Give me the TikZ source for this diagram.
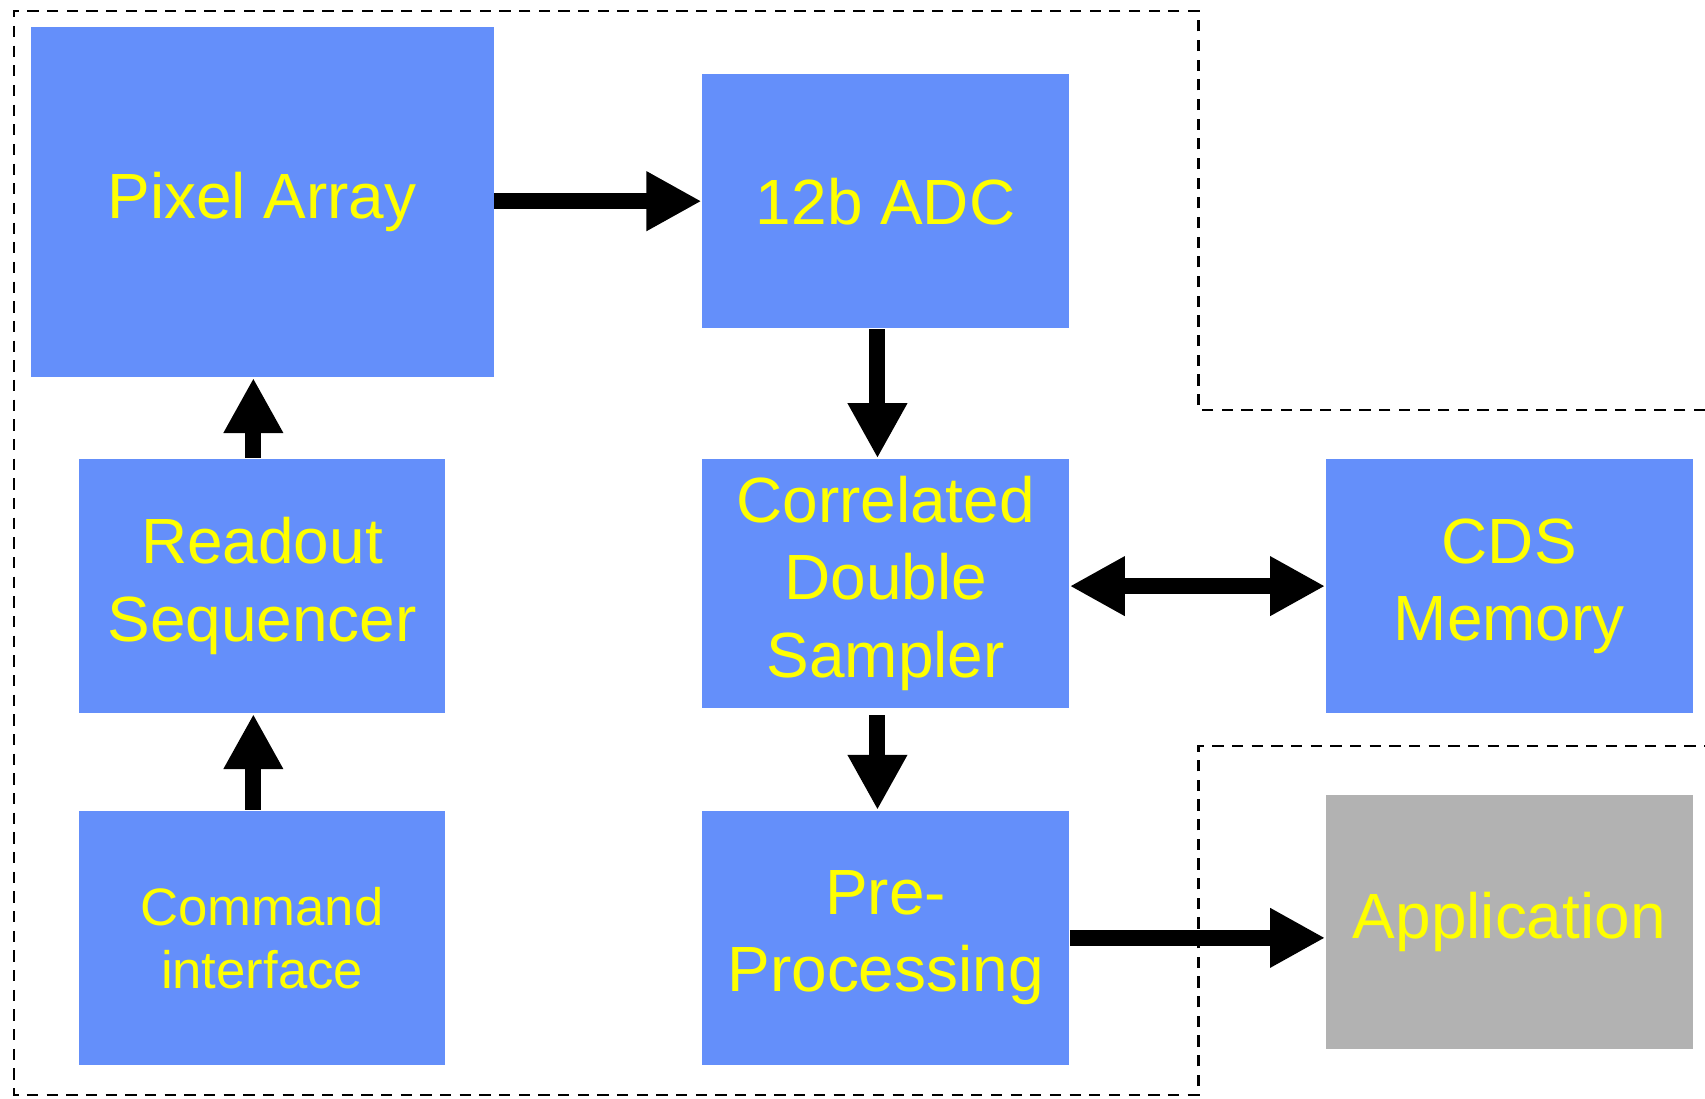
\documentclass[tikz,border=0pt]{standalone}
\usepackage{fontspec}
\setmainfont{Liberation Sans}
\usepackage{tikz}
\usetikzlibrary{positioning,arrows.meta}

\definecolor{boxblue}{RGB}{100,143,250}
\definecolor{appgray}{RGB}{178,178,178}
\definecolor{labelyellow}{RGB}{255,255,0}

\tikzset{
  blk/.style={fill=boxblue, text=labelyellow, align=center, inner sep=0pt,
              font=\fontsize{18.2}{22}\selectfont},
  wide/.style={minimum width=3.67cm, minimum height=2.545cm},
  flow/.style={line width=4.55pt, -{Triangle[length=15.7pt,width=15.9pt]}},
  both/.style={line width=4.55pt, {Triangle[length=15.7pt,width=15.9pt]}-{Triangle[length=15.7pt,width=15.9pt]}},
  chipedge/.style={line width=0.75pt, dash pattern=on 3.2pt off 2.4pt}
}

\begin{document}
\begin{tikzpicture}[x=0.010874cm, y=-0.010874cm]
\useasboundingbox (0,0) rectangle (1568,1010);

% sensor chip boundary
\draw[chipedge] (1568,377) -- (1102,377) -- (1102,10) -- (13,10) -- (13,1007)
    -- (1102,1007) -- (1102,686) -- (1568,686);

\node[blk, minimum width=4.632cm, minimum height=3.501cm] (pixel) at (241,186) {Pixel Array};
\node[blk, wide] (adc) at (814.5,185) {12b ADC};
\node[blk, wide] (readout) at (241,539) {Readout\\Sequencer};
\node[blk, wide, minimum height=2.49cm] (cds) at (814.5,536.5) {Correlated\\Double\\Sampler};
\node[blk, wide] (cdsmem) at (1388,539) {CDS\\Memory};
\node[blk, wide, font=\fontsize{15}{18}\selectfont] (cmd) at (241,862.5) {Command\\interface};
\node[blk, wide] (prep) at (814.5,862.5) {Pre-\\Processing};
\node[blk, wide, fill=appgray] (app) at (1388,848) {Application};

\draw[flow] (pixel.east |- adc.west) -- (adc.west);
\draw[flow] ([xshift=-0.082cm]adc.south) -- ([xshift=-0.082cm]cds.north);
\draw[flow, shorten <=1.9pt] ([xshift=-0.082cm]cds.south) -- ([xshift=-0.082cm]prep.north);
\draw[flow] ([xshift=-0.087cm]readout.north) -- ([xshift=-0.087cm]pixel.south);
\draw[flow] ([xshift=-0.087cm]cmd.north) -- ([xshift=-0.087cm]readout.south);
\draw[both] (cds.east |- cdsmem.west) -- (cdsmem.west);
\draw[flow] (prep.east) -- (prep.east -| app.west);
\end{tikzpicture}
\end{document}
